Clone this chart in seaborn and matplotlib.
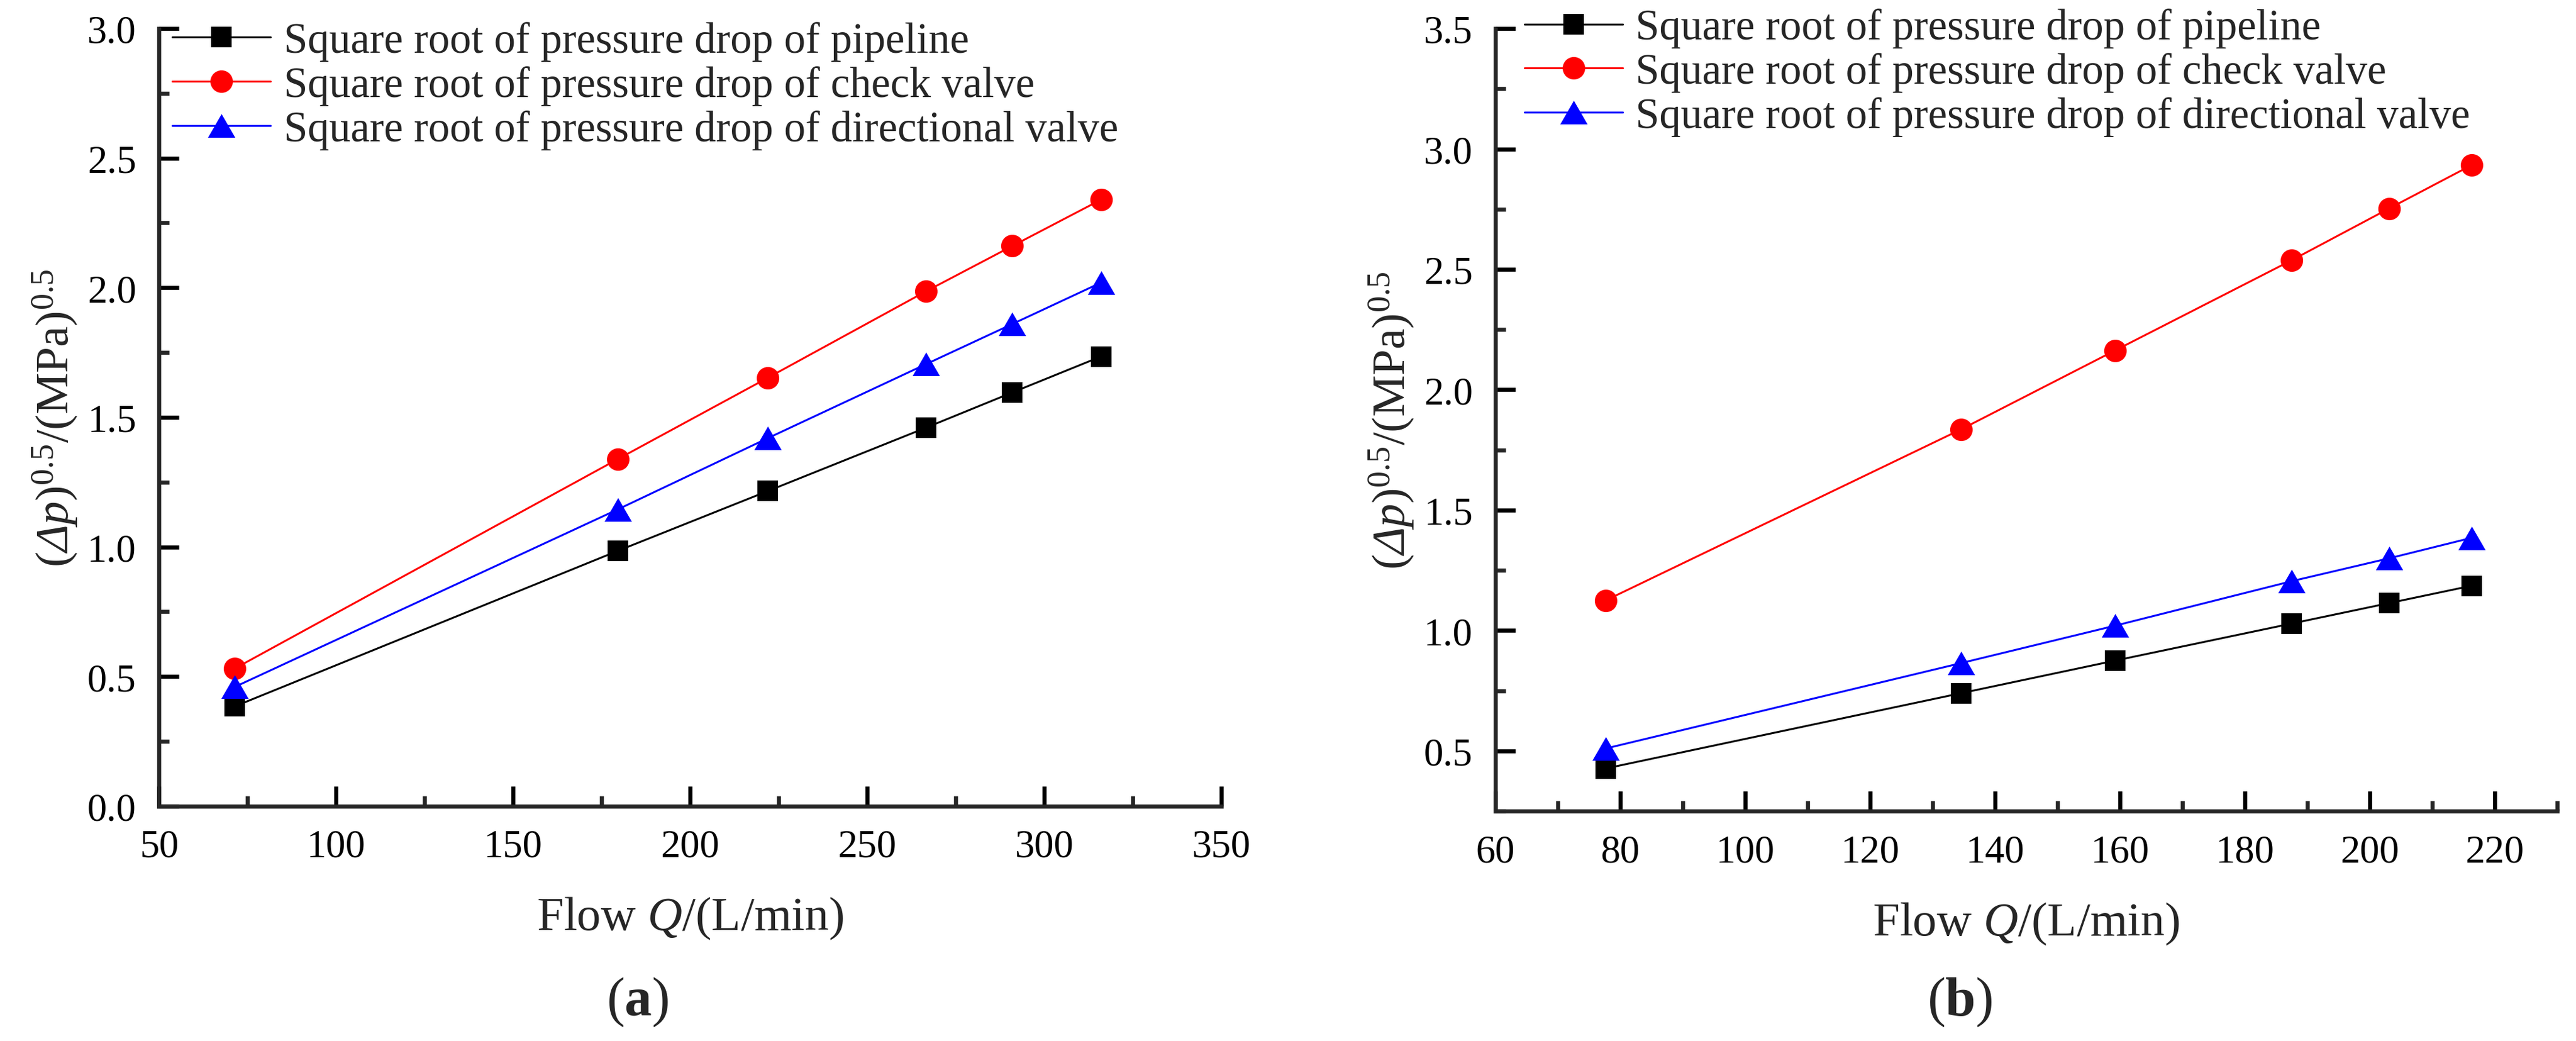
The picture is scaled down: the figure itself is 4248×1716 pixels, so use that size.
import matplotlib
matplotlib.use("Agg")
import matplotlib.pyplot as plt
from matplotlib.ticker import MultipleLocator
import seaborn as sns

# values
flow_a = [71.4, 179.6, 222.0, 266.6, 291.0, 316.1]
pipe_a = [0.385, 0.985, 1.216, 1.460, 1.596, 1.735]
check_a = [0.531, 1.339, 1.653, 1.986, 2.161, 2.340]
dir_a = [0.46, 1.145, 1.42, 1.705, 1.86, 2.02]

flow_b = [77.65, 134.6, 159.2, 187.5, 203.1, 216.3]
pipe_b = [0.427, 0.740, 0.875, 1.029, 1.114, 1.186]
check_b = [1.125, 1.836, 2.163, 2.538, 2.753, 2.933]
dir_b = [0.51, 0.865, 1.02, 1.205, 1.30, 1.385]

labels = ["Square root of pressure drop of pipeline",
          "Square root of pressure drop of check valve",
          "Square root of pressure drop of directional valve"]

sns.set_theme(style="ticks")
plt.rcParams["font.family"] = ["Liberation Serif", "DejaVu Serif"]
plt.rcParams["mathtext.fontset"] = "custom"
plt.rcParams["mathtext.rm"] = "Liberation Serif"
plt.rcParams["mathtext.it"] = "Liberation Serif:italic"
plt.rcParams["mathtext.sf"] = "Liberation Serif:italic"
plt.rcParams["mathtext.bf"] = "Liberation Serif:bold"
plt.rcParams["axes.linewidth"] = 1.6

# equilateral triangle, as drawn by the original software
tri = [(0, 0.866), (-1, -0.866), (1, -0.866), (0, 0.866)]
styles = [("s", "black", 8.2), ("o", "red", 8.9), (tri, "blue", 10.8)]

fig = plt.figure(figsize=(14.16, 5.7233), dpi=300)
ax_a = fig.add_axes([0.06168, 0.2254, 0.41243, 0.7467])
ax_b = fig.add_axes([0.58051, 0.2207, 0.4122, 0.7513])


def draw(ax, flow, series):
    for vals, (mk, col, ms), lab in zip(series, styles, labels):
        sns.lineplot(x=flow, y=vals, ax=ax, color=col, marker=mk,
                     markersize=ms, markeredgewidth=0, linewidth=0.75,
                     label=lab)
    for side in ["top", "right"]:
        ax.spines[side].set_visible(False)
    ax.tick_params(which="major", direction="in", length=7.9, width=1.6,
                   labelsize=15.5, pad=9, colors="black",
                   labelfontfamily="Liberation Serif")
    ax.tick_params(which="minor", direction="in", length=4, width=1.6)
    ax.set_xlabel(r"Flow $\mathit{Q}$/(L/min)", fontsize=19)
    ax.set_ylabel(r"$(\mathsf{Δ}\mathit{p})^{0.5}/(\mathrm{MPa})^{0.5}$",
                  fontsize=18.5)
    ax.xaxis.set_label_coords(0.5, -0.114)
    ax.yaxis.set_label_coords(-0.075, 0.5)
    ax.legend(loc="upper left", frameon=False, fontsize=17,
              handlelength=2.29, handletextpad=0.3, labelspacing=0.1,
              borderpad=0, borderaxespad=0)


draw(ax_a, flow_a, [pipe_a, check_a, dir_a])
ax_a.set_xlim(50, 350)
ax_a.set_ylim(0, 3.0)
ax_a.xaxis.set_major_locator(MultipleLocator(50))
ax_a.xaxis.set_minor_locator(MultipleLocator(25))
ax_a.yaxis.set_major_locator(MultipleLocator(0.5))
ax_a.yaxis.set_minor_locator(MultipleLocator(0.25))
ax_a.yaxis.set_major_formatter(lambda v, p: f"{v:.1f}")
ax_a.get_legend().set_bbox_to_anchor((0.0126, 1.009))

draw(ax_b, flow_b, [pipe_b, check_b, dir_b])
ax_b.set_xlim(60, 230)
ax_b.set_ylim(0.25, 3.5)
ax_b.xaxis.set_major_locator(MultipleLocator(20))
ax_b.xaxis.set_minor_locator(MultipleLocator(10))
ax_b.yaxis.set_major_locator(MultipleLocator(0.5))
ax_b.yaxis.set_minor_locator(MultipleLocator(0.25))
ax_b.yaxis.set_major_formatter(lambda v, p: f"{v:.1f}")
ax_b.get_legend().set_bbox_to_anchor((0.0274, 1.026))

fig.text(0.2474, 0.038, r"($\mathbf{a}$)", ha="center", va="center", fontsize=21.5)
fig.text(0.7608, 0.038, r"($\mathbf{b}$)", ha="center", va="center", fontsize=21.5)

fig.savefig("out.png", dpi=300)
